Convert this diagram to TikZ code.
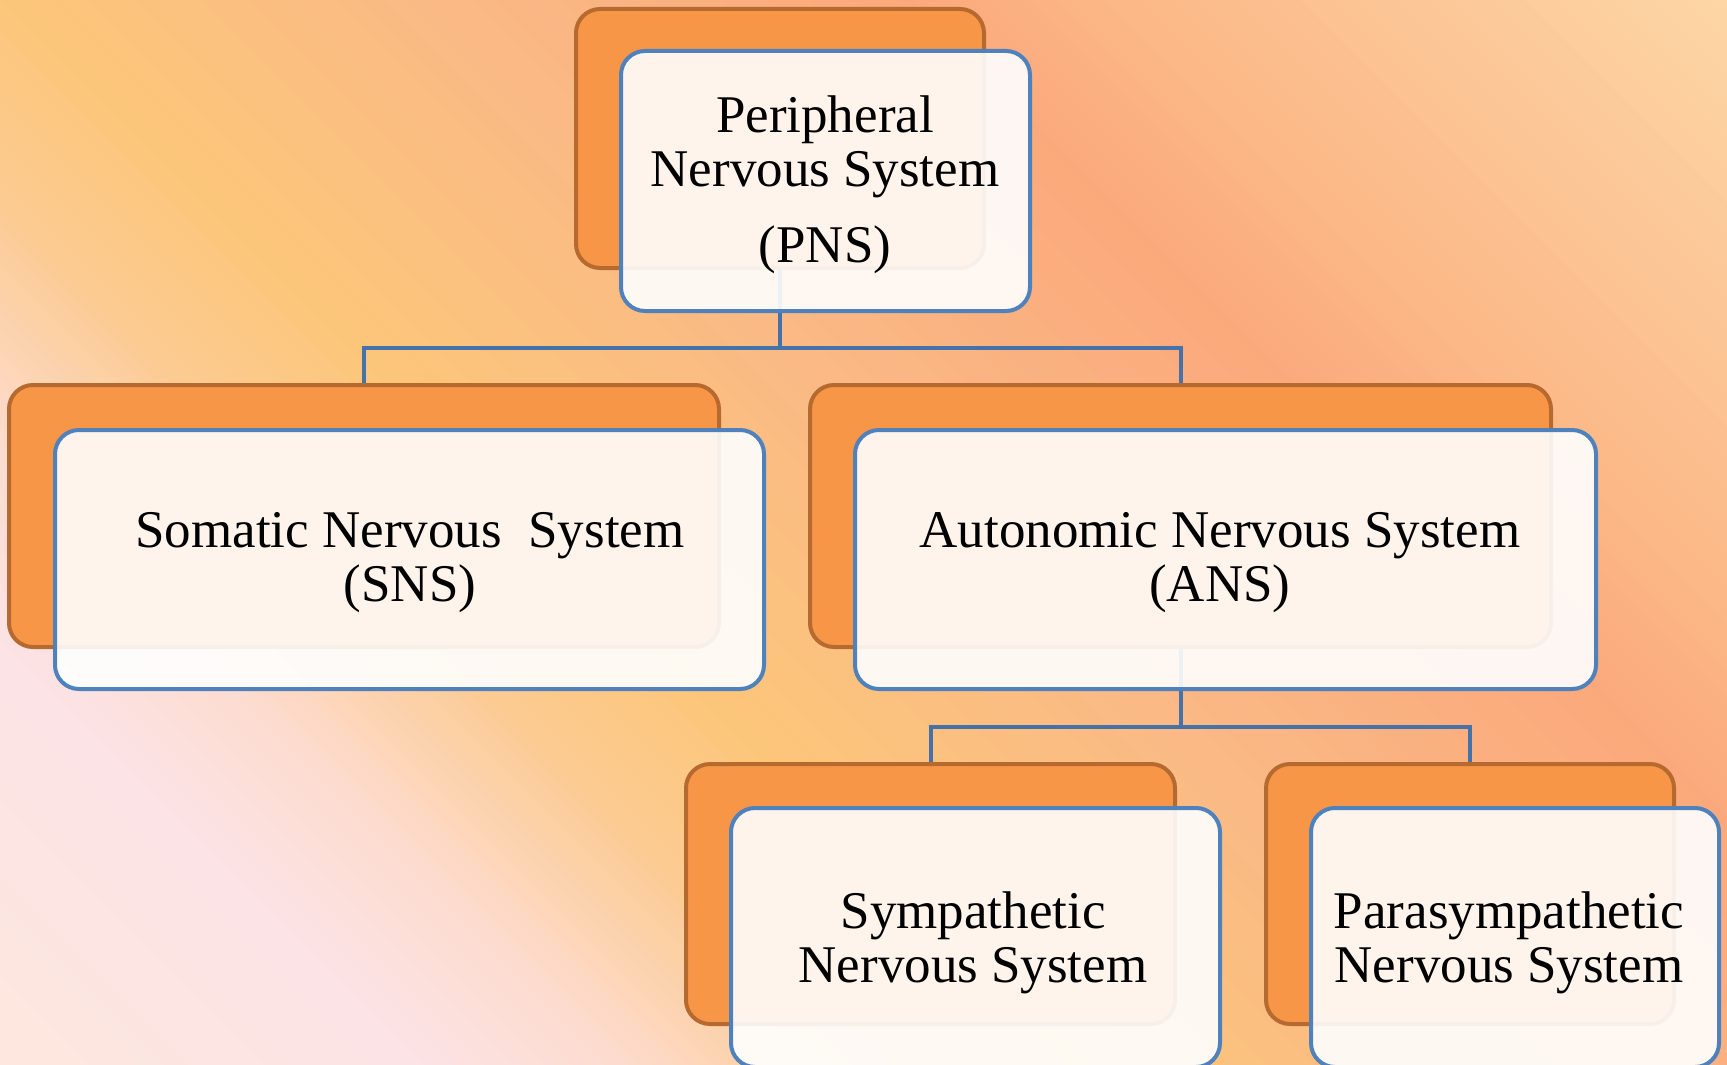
\documentclass[tikz,border=0pt]{standalone}
\usepackage{fontspec}
\setmainfont{Liberation Serif}
\definecolor{bgA}{HTML}{FDE8DC}
\definecolor{bgB}{HTML}{FCE3E6}
\definecolor{bgC}{HTML}{FDDCCF}
\definecolor{bgD}{HTML}{FCCB92}
\definecolor{bgE}{HTML}{FCC67A}
\definecolor{bgF}{HTML}{FAB985}
\definecolor{bgG}{HTML}{FBA97C}
\definecolor{bgH}{HTML}{FCB988}
\definecolor{bgI}{HTML}{FDD9AA}
\definecolor{ofill}{HTML}{F79646}
\definecolor{oborder}{HTML}{B66A30}
\definecolor{wborder}{HTML}{4F81BD}
\definecolor{connc}{HTML}{4672AA}
\newcommand\bgseg[4]{%
  \foreach \i in {0,...,19}{%
    \pgfmathsetmacro\ta{(#1)+((#2)-(#1))*\i/20}%
    \pgfmathsetmacro\tb{(#1)+((#2)-(#1))*(\i+1)/20+1.5}%
    \pgfmathtruncatemacro\pp{100*(\i+0.5)/20}%
    \fill[#4!\pp!#3] (\ta-100,-100) -- (\ta+1200,1200) -- (\tb+1200,1200) -- (\tb-100,-100) -- cycle;
  }}
\begin{document}
\begin{tikzpicture}[x=1pt,y=-1pt,
  obox/.style={draw=oborder, fill=ofill, line width=4pt, rounded corners=24pt, inner sep=0pt},
  wbox/.style={draw=wborder, fill=white, fill opacity=0.9, draw opacity=1, line width=4pt, rounded corners=24pt, inner sep=0pt},
  tbox/.style={align=center, inner sep=0pt, font=\fontsize{53}{54}\selectfont},
  conn/.style={draw=connc, line width=4pt}]
\useasboundingbox (0,0) rectangle (1727,1065);
\begin{scope}
\clip (0,0) rectangle (1727,1065);
\bgseg{-1150}{-650}{bgA}{bgB}
\bgseg{-650}{-450}{bgB}{bgC}
\bgseg{-450}{-200}{bgC}{bgD}
\bgseg{-200}{0}{bgD}{bgE}
\bgseg{0}{450}{bgE}{bgF}
\bgseg{450}{900}{bgF}{bgG}
\bgseg{900}{1140}{bgG}{bgH}
\bgseg{1140}{1780}{bgH}{bgI}
\end{scope}
% orange back boxes
\node[obox, minimum width=408pt, minimum height=259pt] (pnsO) at (780,138.5) {};
\node[obox, minimum width=710pt, minimum height=262pt] (snsO) at (364,516) {};
\node[obox, minimum width=741pt, minimum height=262pt] (ansO) at (1180.5,516) {};
\node[obox, minimum width=489pt, minimum height=260pt] (symO) at (930.5,894) {};
\node[obox, minimum width=408pt, minimum height=260pt] (parO) at (1470,894) {};
% connectors
\coordinate (j1) at (780,348);
\coordinate (j2) at (1180.5,727);
\draw[conn] (pnsO.south) -- (j1) -| (snsO.north);
\draw[conn] (j1) -| (ansO.north);
\draw[conn] (ansO.south) -- (j2) -| (symO.north);
\draw[conn] (j2) -| (parO.north);
% front boxes
\node[wbox, minimum width=409pt, minimum height=260pt] (pnsW) at (825.5,181) {};
\node[wbox, minimum width=709pt, minimum height=259pt] (snsW) at (409.5,559.5) {};
\node[wbox, minimum width=741pt, minimum height=259pt] (ansW) at (1225.5,559.5) {};
\node[wbox, minimum width=489pt, minimum height=259pt] (symW) at (975.5,937.5) {};
\node[wbox, minimum width=408pt, minimum height=259pt] (parW) at (1515,937.5) {};
% texts
\node[tbox] (pnsT) at (825,184.5) {Peripheral\\Nervous System\\[22pt](PNS)};
\node[tbox] (snsT) at (410,562.5) {Somatic Nervous\ \ System\\(SNS)};
\node[tbox] (ansT) at (1220,562.5) {Autonomic Nervous System\\(ANS)};
\node[tbox] (symT) at (973,942.5) {Sympathetic\\Nervous System};
\node[tbox] (parT) at (1509,942.5) {Parasympathetic\\Nervous System};
\end{tikzpicture}
\end{document}
